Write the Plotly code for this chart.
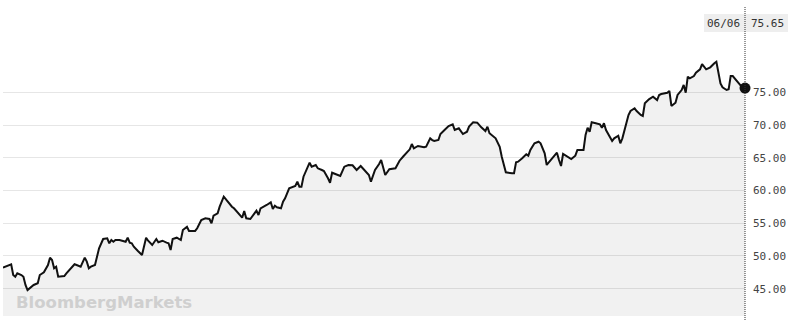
import plotly.graph_objects as go

dates = [
    "2017-06-08", "2017-06-11", "2017-06-12", "2017-06-13", "2017-06-14", "2017-06-15", "2017-06-17", "2017-06-18",
    "2017-06-19", "2017-06-20", "2017-06-22", "2017-06-23", "2017-06-25", "2017-06-26", "2017-06-28", "2017-06-30",
    "2017-07-01", "2017-07-02", "2017-07-03", "2017-07-04", "2017-07-05", "2017-07-08", "2017-07-09", "2017-07-11",
    "2017-07-13", "2017-07-14", "2017-07-16", "2017-07-18", "2017-07-19", "2017-07-20", "2017-07-21", "2017-07-23",
    "2017-07-24", "2017-07-25", "2017-07-27", "2017-07-29", "2017-07-30", "2017-07-31", "2017-08-01", "2017-08-02",
    "2017-08-04", "2017-08-06", "2017-08-07", "2017-08-08", "2017-08-09", "2017-08-10", "2017-08-11", "2017-08-13",
    "2017-08-14", "2017-08-15", "2017-08-17", "2017-08-18", "2017-08-20", "2017-08-22", "2017-08-23", "2017-08-25",
    "2017-08-27", "2017-08-28", "2017-08-29", "2017-08-30", "2017-09-01", "2017-09-03", "2017-09-04", "2017-09-06",
    "2017-09-07", "2017-09-10", "2017-09-11", "2017-09-13", "2017-09-15", "2017-09-17", "2017-09-18", "2017-09-19",
    "2017-09-21", "2017-09-22", "2017-09-24", "2017-09-26", "2017-09-28", "2017-09-29", "2017-10-02", "2017-10-03",
    "2017-10-04", "2017-10-05", "2017-10-07", "2017-10-09", "2017-10-10", "2017-10-11", "2017-10-12", "2017-10-15",
    "2017-10-17", "2017-10-18", "2017-10-19", "2017-10-20", "2017-10-22", "2017-10-23", "2017-10-24", "2017-10-26",
    "2017-10-29", "2017-10-30", "2017-10-31", "2017-11-01", "2017-11-02", "2017-11-05", "2017-11-06", "2017-11-08",
    "2017-11-09", "2017-11-11", "2017-11-12", "2017-11-14", "2017-11-15", "2017-11-16", "2017-11-18", "2017-11-20",
    "2017-11-22", "2017-11-24", "2017-11-26", "2017-11-28", "2017-11-30", "2017-12-02", "2017-12-04", "2017-12-05",
    "2017-12-07", "2017-12-09", "2017-12-10", "2017-12-12", "2017-12-14", "2017-12-17", "2017-12-18", "2017-12-19",
    "2017-12-21", "2017-12-24", "2017-12-25", "2017-12-26", "2017-12-28", "2017-12-31", "2018-01-01", "2018-01-03",
    "2018-01-04", "2018-01-05", "2018-01-07", "2018-01-08", "2018-01-10", "2018-01-12", "2018-01-14", "2018-01-15",
    "2018-01-17", "2018-01-19", "2018-01-21", "2018-01-22", "2018-01-24", "2018-01-26", "2018-01-28", "2018-01-30",
    "2018-01-31", "2018-02-01", "2018-02-04", "2018-02-05", "2018-02-06", "2018-02-07", "2018-02-08", "2018-02-09",
    "2018-02-12", "2018-02-13", "2018-02-14", "2018-02-15", "2018-02-17", "2018-02-19", "2018-02-20", "2018-02-21",
    "2018-02-23", "2018-02-25", "2018-02-26", "2018-02-28", "2018-03-01", "2018-03-03", "2018-03-06", "2018-03-07",
    "2018-03-08", "2018-03-09", "2018-03-11", "2018-03-13", "2018-03-15", "2018-03-16", "2018-03-18", "2018-03-19",
    "2018-03-20", "2018-03-21", "2018-03-22", "2018-03-23", "2018-03-25", "2018-03-27", "2018-03-28", "2018-03-29",
    "2018-03-30", "2018-04-01", "2018-04-02", "2018-04-03", "2018-04-05", "2018-04-06", "2018-04-07", "2018-04-10",
    "2018-04-11", "2018-04-13", "2018-04-14", "2018-04-16", "2018-04-17", "2018-04-18", "2018-04-20", "2018-04-22",
    "2018-04-24", "2018-04-25", "2018-04-26", "2018-04-29", "2018-04-30", "2018-05-01", "2018-05-03", "2018-05-04",
    "2018-05-06", "2018-05-07", "2018-05-08", "2018-05-09", "2018-05-10", "2018-05-12", "2018-05-13", "2018-05-15",
    "2018-05-16", "2018-05-18", "2018-05-20", "2018-05-22", "2018-05-23", "2018-05-25", "2018-05-26", "2018-05-28",
    "2018-05-29", "2018-05-30", "2018-05-31", "2018-06-03", "2018-06-05", "2018-06-06",
]

prices = [
    48.21, 48.51, 48.73, 47.09, 46.83, 47.35, 47.09, 46.83,
    45.57, 44.80, 45.31, 45.57, 45.83, 47.09, 47.51, 48.62,
    49.74, 49.39, 48.12, 48.36, 46.83, 46.94, 47.35, 48.12,
    48.73, 48.62, 48.36, 49.74, 49.13, 48.12, 48.36, 48.62,
    50.15, 51.17, 52.59, 52.70, 51.94, 52.44, 52.18, 52.44,
    52.44, 52.33, 52.18, 52.79, 52.03, 51.94, 51.42, 50.76,
    50.50, 50.15, 52.79, 52.33, 51.68, 52.59, 52.09, 52.33,
    52.03, 51.94, 50.91, 52.59, 52.79, 52.44, 53.97, 54.47,
    53.82, 53.82, 54.23, 55.50, 55.75, 55.65, 54.99, 56.15,
    56.52, 57.53, 59.05, 58.20, 57.53, 57.28, 56.15, 55.85,
    56.87, 55.75, 55.65, 56.52, 56.92, 56.26, 57.28, 57.79,
    58.20, 57.17, 57.68, 57.43, 57.28, 58.29, 58.81, 60.34,
    60.69, 61.35, 60.58, 60.58, 62.11, 64.25, 63.64, 63.90,
    63.39, 63.13, 62.98, 61.86, 61.19, 62.72, 62.48, 62.22,
    63.64, 63.90, 63.85, 63.13, 63.74, 63.03, 62.37, 61.35,
    63.13, 64.05, 64.66, 62.37, 63.24, 63.39, 63.90, 64.55,
    65.27, 66.29, 67.10, 66.45, 66.80, 66.60, 66.69, 67.97,
    67.71, 67.56, 67.71, 68.63, 69.24, 69.85, 70.11, 69.24,
    69.50, 68.63, 68.98, 69.75, 70.42, 70.36, 69.65, 69.09,
    69.75, 68.74, 67.97, 67.21, 66.69, 65.16, 63.90, 62.78,
    62.63, 62.63, 64.31, 64.40, 64.92, 65.53, 65.32, 66.19,
    67.21, 67.45, 67.21, 65.68, 63.90, 64.66, 65.77, 64.66,
    63.74, 65.58, 65.16, 64.81, 65.32, 66.19, 66.19, 66.19,
    68.48, 69.59, 68.98, 70.42, 70.27, 70.11, 69.59, 70.27,
    69.24, 68.22, 67.56, 67.97, 68.37, 67.21, 67.97, 71.53,
    72.14, 72.56, 72.14, 71.53, 71.38, 73.32, 73.93, 74.33,
    73.82, 74.59, 74.74, 74.94, 75.20, 72.91, 73.41, 74.59,
    75.35, 76.12, 74.94, 77.38, 77.14, 77.49, 77.99, 78.51,
    79.32, 78.51, 78.82, 79.43, 79.67, 76.37, 75.76, 75.35,
    75.46, 77.49, 77.49, 76.37, 75.61, 75.65,
]

tick_values = [45, 50, 55, 60, 65, 70, 75]
tick_labels = ["45.00", "50.00", "55.00", "60.00", "65.00", "70.00", "75.00"]
last_label = "06/06"
watermark = "BloombergMarkets"

W, H = 800, 320
ML, MR, MT, MB = 3, 55, 0, 4
PW = W - ML - MR
PH = H - MT - MB


def px_x(p):
    return (p - ML) / PW


def px_y(p):
    return (H - MB - p) / PH


mono = "DejaVu Sans Mono"

fig = go.Figure()
fig.add_trace(go.Scatter(
    x=dates, y=prices, mode="lines",
    line=dict(color="#111111", width=2),
    fill="tozeroy", fillcolor="rgba(0,0,0,0.055)",
    hoverinfo="skip", showlegend=False,
))
fig.add_trace(go.Scatter(
    x=[dates[-1]], y=[prices[-1]], mode="markers",
    marker=dict(color="#111111", size=11),
    cliponaxis=False, hoverinfo="skip", showlegend=False,
))

fig.update_layout(
    width=W, height=H,
    margin=dict(l=ML, r=MR, t=MT, b=MB, pad=0),
    paper_bgcolor="white", plot_bgcolor="white",
    xaxis=dict(range=[dates[0], dates[-1]], showgrid=False, showticklabels=False,
               zeroline=False, showline=False, ticks=""),
    yaxis=dict(range=[40.83, 89.10], side="right", tickvals=tick_values, ticktext=tick_labels,
               showgrid=True, gridcolor="#e6e6e6", gridwidth=1, zeroline=False, showline=False,
               ticks="", ticklabelstandoff=7,
               tickfont=dict(family=mono, size=11, color="#444444")),
    shapes=[
        dict(type="rect", xref="paper", yref="paper",
             x0=px_x(704), x1=px_x(788), y0=px_y(32), y1=px_y(14),
             fillcolor="#eeeeee", line=dict(width=0), layer="above"),
        dict(type="line", xref="paper", yref="paper",
             x0=1, x1=1, y0=px_y(320), y1=px_y(7),
             line=dict(color="#333333", width=1, dash="1px,1px"), layer="above"),
    ],
    annotations=[
        dict(x=dates[-1], xref="x", y=px_y(23), yref="paper", text=last_label,
             xanchor="right", yanchor="middle", xshift=-3, showarrow=False,
             font=dict(family=mono, size=11, color="#333333")),
        dict(x=dates[-1], xref="x", y=px_y(23), yref="paper", text=f"{prices[-1]:.2f}",
             xanchor="left", yanchor="middle", xshift=4, showarrow=False,
             font=dict(family=mono, size=11, color="#333333")),
        dict(x=px_x(14), xref="paper", y=px_y(302.5), yref="paper", text=watermark,
             xanchor="left", yanchor="middle", showarrow=False,
             font=dict(family="DejaVu Sans", size=16.5, color="#cfcfcf", weight="bold")),
    ],
)

fig.write_html("out.html")
